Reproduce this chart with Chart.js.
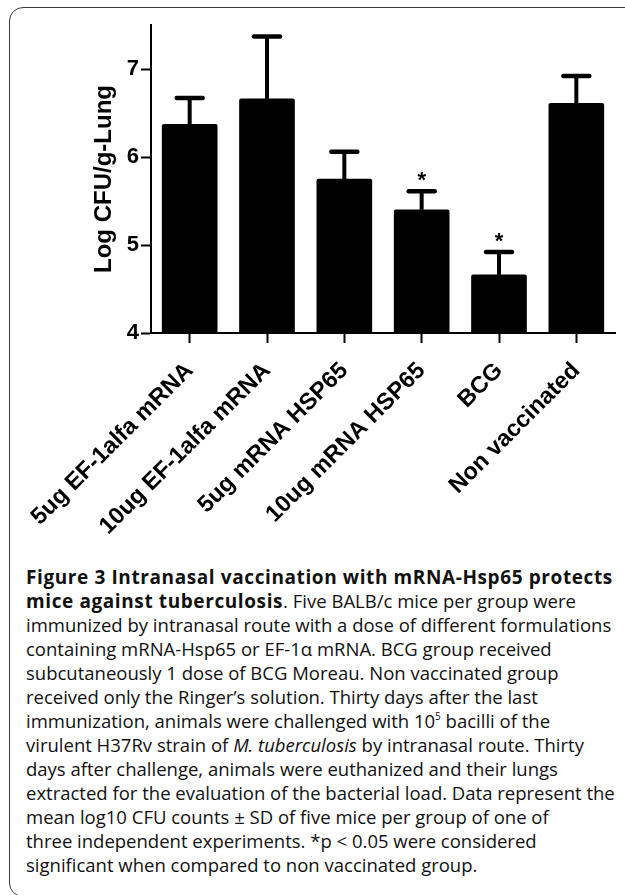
<!DOCTYPE html>
<html>
<head>
<meta charset="utf-8">
<script src="https://cdn.jsdelivr.net/npm/chart.js@4"></script>
<style>
  body { margin: 0; background: #fff; width: 625px; height: 895px; overflow: hidden; position: relative; }
  #frame { position: absolute; left: 9px; top: 7px; width: 700px; height: 890px; border: 1.5px solid #3a3a3a; border-radius: 14px; box-sizing: border-box; }
  #wrap { position: absolute; left: 0; top: 0; width: 625px; height: 560px; }
  #caption { position: absolute; left: 26px; top: 565px; font-family: "Open Sans", sans-serif; font-size: 18.5px; line-height: 24px; color: #111; white-space: nowrap; }
  #caption b { font-weight: 700; font-size: 19px; letter-spacing: 0.6px; }
  #caption sup { font-size: 10px; line-height: 0; vertical-align: 8px; }
</style>
</head>
<body>
<div id="frame"></div>
<div id="wrap"><canvas id="chart" width="625" height="560"></canvas></div>
<div id="caption">
<b>Figure 3 Intranasal vaccination with mRNA-Hsp65 protects</b><br>
<b>mice against tuberculosis</b>. Five BALB/c mice per group were<br>
immunized by intranasal route with a dose of different formulations<br>
containing mRNA-Hsp65 or EF-1α mRNA. BCG group received<br>
subcutaneously 1 dose of BCG Moreau. Non vaccinated group<br>
received only the Ringer’s solution. Thirty days after the last<br>
immunization, animals were challenged with 10<sup>5</sup> bacilli of the<br>
virulent H37Rv strain of <i>M. tuberculosis</i> by intranasal route. Thirty<br>
days after challenge, animals were euthanized and their lungs<br>
extracted for the evaluation of the bacterial load. Data represent the<br>
mean log10 CFU counts ± SD of five mice per group of one of<br>
three independent experiments. *p &lt; 0.05 were considered<br>
significant when compared to non vaccinated group.
</div>
<script>
const groups = ["5ug EF-1alfa mRNA", "10ug EF-1alfa mRNA", "5ug mRNA HSP65", "10ug mRNA HSP65", "BCG", "Non vaccinated"];
const meanLogCfu = [6.37, 6.66, 5.75, 5.40, 4.66, 6.61];
const sdLogCfu = [0.30, 0.71, 0.31, 0.21, 0.26, 0.31];
const significant = [false, false, false, true, true, false];
const yTicks = [4, 5, 6, 7];

const fontFam = "'Liberation Sans', Arial, sans-serif";

// upper error bars + asterisks
const errorBars = {
  id: "errorBars",
  afterDatasetsDraw(chart) {
    const ctx = chart.ctx;
    const y = chart.scales.y;
    const bars = chart.getDatasetMeta(0).data;
    ctx.save();
    ctx.strokeStyle = "#000";
    ctx.fillStyle = "#000";
    bars.forEach((bar, i) => {
      const top = y.getPixelForValue(meanLogCfu[i] + sdLogCfu[i]);
      ctx.lineCap = "butt";
      ctx.lineWidth = 4;
      ctx.beginPath();
      ctx.moveTo(bar.x, bar.y);
      ctx.lineTo(bar.x, top);
      ctx.stroke();
      ctx.lineCap = "round";
      ctx.lineWidth = 4.5;
      ctx.beginPath();
      ctx.moveTo(bar.x - 13, top);
      ctx.lineTo(bar.x + 13, top);
      ctx.stroke();
      if (significant[i]) {
        ctx.font = "bold 22px " + fontFam;
        ctx.textAlign = "center";
        ctx.textBaseline = "alphabetic";
        ctx.fillText("*", bar.x, top - 4);
      }
    });
    ctx.restore();
  }
};

new Chart(document.getElementById("chart"), {
  type: "bar",
  data: {
    labels: groups,
    datasets: [{
      data: meanLogCfu,
      backgroundColor: "#000",
      borderWidth: 0,
      borderRadius: 2,
      barThickness: 55
    }]
  },
  options: {
    responsive: false,
    animation: false,
    layout: { padding: { left: 86, top: 25, right: 10, bottom: 0 } },
    plugins: { legend: { display: false }, tooltip: { enabled: false } },
    scales: {
      x: {
        grid: { drawOnChartArea: false, drawTicks: true, tickLength: 10, tickWidth: 2, tickColor: "#000", offset: false },
        border: { display: true, color: "#000", width: 2 },
        ticks: { color: "#000", font: { family: fontFam, size: 23.5, weight: "bold" }, maxRotation: 45, minRotation: 45, padding: 14 },
        afterFit(scale) { scale.height = 227; }
      },
      y: {
        min: 4,
        max: 7.5,
        afterBuildTicks(scale) { scale.ticks = yTicks.map(v => ({ value: v })); },
        grid: { drawOnChartArea: false, drawTicks: true, tickLength: 10, tickWidth: 2, tickColor: "#000" },
        border: { display: true, color: "#000", width: 2 },
        ticks: { color: "#000", font: { family: fontFam, size: 22, weight: "bold" }, padding: 2 },
        title: { display: true, text: "Log CFU/g-Lung", color: "#000", font: { family: fontFam, size: 24, weight: "bold" }, padding: { top: 4, bottom: 4 } },
        afterFit(scale) { scale.width = 65; }
      }
    }
  },
  plugins: [errorBars]
});
</script>
</body>
</html>
